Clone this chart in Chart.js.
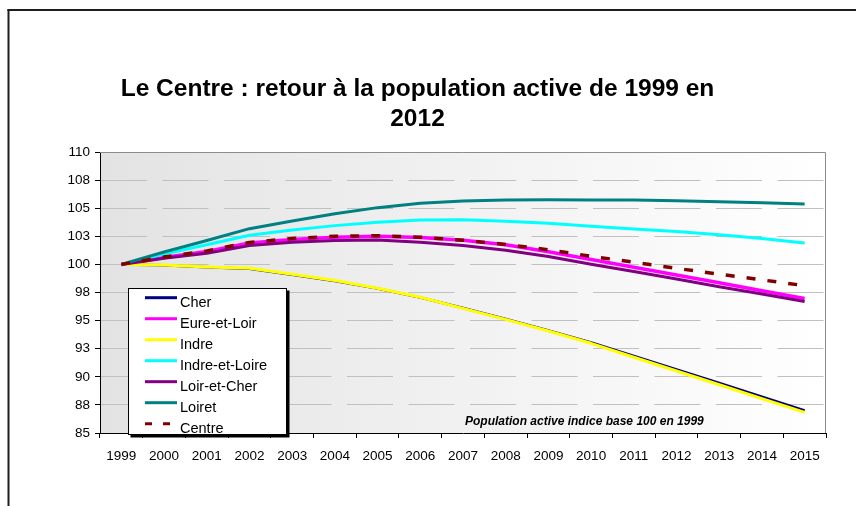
<!DOCTYPE html>
<html>
<head>
<meta charset="utf-8">
<script src="https://cdn.jsdelivr.net/npm/chart.js@4/dist/chart.umd.min.js"></script>
<style>
html,body{margin:0;padding:0;background:#fff;}
canvas{display:block;}
</style>
</head>
<body>
<canvas id="c" width="856" height="506"></canvas>
<script>
// ---- data ----
const years = ['1999','2000','2001','2002','2003','2004','2005','2006','2007','2008','2009','2010','2011','2012','2013','2014','2015'];
const cher        = [100, 99.92, 99.74, 99.62, 99.08, 98.52, 97.85, 97.05, 96.12, 95.14, 94.12, 93.05, 91.86, 90.66, 89.45, 88.23, 87.00];
const eureEtLoir  = [100, 100.62, 101.15, 101.90, 102.22, 102.42, 102.51, 102.40, 102.14, 101.74, 101.12, 100.44, 99.75, 99.06, 98.36, 97.66, 96.97];
const indre       = [100, 99.94, 99.76, 99.66, 99.13, 98.56, 97.88, 97.08, 96.09, 95.11, 94.07, 92.98, 91.74, 90.52, 89.29, 88.06, 86.84];
const indreEtLoire= [100, 100.92, 101.75, 102.60, 103.07, 103.45, 103.75, 103.96, 103.98, 103.84, 103.66, 103.40, 103.16, 102.92, 102.64, 102.30, 101.90];
const loirEtCher  = [100, 100.55, 101.00, 101.68, 101.98, 102.12, 102.16, 101.98, 101.68, 101.25, 100.70, 100.02, 99.36, 98.70, 98.02, 97.36, 96.70];
const loiret      = [100, 101.10, 102.13, 103.18, 103.86, 104.50, 105.05, 105.45, 105.65, 105.72, 105.75, 105.74, 105.72, 105.66, 105.57, 105.48, 105.37];
const centre      = [100, 100.65, 101.20, 101.95, 102.30, 102.50, 102.56, 102.42, 102.15, 101.78, 101.30, 100.72, 100.20, 99.65, 99.13, 98.62, 98.11];

const seriesNames = ['Cher','Eure-et-Loir','Indre','Indre-et-Loire','Loir-et-Cher','Loiret','Centre'];
const seriesData  = [cher, eureEtLoir, indre, indreEtLoire, loirEtCher, loiret, centre];
const yMin = 85, yMax = 110, yStep = 2.5;
const titleLines = ['Le Centre : retour à la population active de 1999 en', '2012'];
const noteText = 'Population active indice base 100 en 1999';

// ---- styles ----
const FONT = '"Liberation Sans", Arial, Helvetica, sans-serif';
const colors = ['#000080','#FF00FF','#FFFF00','#00FFFF','#800080','#008080','#800000'];
const widths = [2.5, 3.5, 3, 3, 3, 3, 3.5];
const dashes = [[],[],[],[],[],[],[9,12]];

const decor = {
  id: 'decor',
  beforeDraw(chart) {
    const {ctx, chartArea: a} = chart;
    ctx.save();
    const g = ctx.createLinearGradient(a.left, 0, a.right, 0);
    g.addColorStop(0, '#e3e3e3');
    g.addColorStop(1, '#ffffff');
    ctx.fillStyle = g;
    ctx.fillRect(a.left, a.top, a.right - a.left, a.bottom - a.top);
    // outer frame (top + left)
    ctx.fillStyle = '#1e1e1e';
    ctx.fillRect(7.5, 9, chart.width - 7.5, 2);
    ctx.fillRect(7.5, 9, 2, chart.height - 9);
    ctx.restore();
  },
  beforeDatasetsDraw(chart) {
    const {ctx, chartArea: a} = chart;
    ctx.save();
    ctx.strokeStyle = '#8c8c8c';
    ctx.lineWidth = 1;
    ctx.beginPath();
    ctx.moveTo(a.left, a.top + 0.5);
    ctx.lineTo(a.right - 0.5, a.top + 0.5);
    ctx.lineTo(a.right - 0.5, a.bottom);
    ctx.stroke();
    ctx.restore();
  },
  afterDraw(chart) {
    const {ctx} = chart;
    ctx.save();
    // title
    ctx.fillStyle = '#000';
    ctx.font = 'bold 24.5px ' + FONT;
    ctx.textAlign = 'center';
    ctx.textBaseline = 'alphabetic';
    ctx.fillText(titleLines[0], 417.5, 96);
    ctx.fillText(titleLines[1], 417.5, 126);
    // note
    ctx.font = 'italic bold 12px ' + FONT;
    ctx.textAlign = 'left';
    ctx.textBaseline = 'middle';
    ctx.fillText(noteText, 465, 422);
    // legend box
    const lx = 128.5, ly = 288.5, lw = 158, lh = 146;
    ctx.fillStyle = '#000';
    ctx.fillRect(lx + 2, ly + 2, lw + 1, lh + 1);
    ctx.fillStyle = '#fff';
    ctx.fillRect(lx, ly, lw, lh);
    ctx.strokeStyle = '#000';
    ctx.lineWidth = 1;
    ctx.strokeRect(lx, ly, lw, lh);
    chart.data.datasets.forEach((ds, i) => {
      const cy = 302.7 + i * 21;
      ctx.strokeStyle = ds.borderColor;
      ctx.lineWidth = 3;
      ctx.setLineDash(ds.borderDash && ds.borderDash.length ? [7, 11] : []);
      ctx.beginPath();
      ctx.moveTo(145, cy - 5);
      ctx.lineTo(177, cy - 5);
      ctx.stroke();
      ctx.setLineDash([]);
      ctx.fillStyle = '#000';
      ctx.font = '14.5px ' + FONT;
      ctx.textBaseline = 'middle';
      ctx.fillText(ds.label, 180, cy);
    });
    ctx.restore();
  }
};

new Chart(document.getElementById('c'), {
  type: 'line',
  data: {
    labels: years,
    datasets: seriesNames.map((n, i) => ({
      label: n,
      data: seriesData[i],
      borderColor: colors[i],
      backgroundColor: colors[i],
      borderWidth: widths[i],
      borderDash: dashes[i],
      borderCapStyle: 'butt',
      borderJoinStyle: 'round',
      pointRadius: 0,
      tension: 0,
      fill: false,
      order: seriesNames.length - 1 - i
    }))
  },
  options: {
    responsive: false,
    animation: false,
    devicePixelRatio: 1,
    layout: {padding: {left: 0, right: 30, top: 152, bottom: 33}},
    plugins: {legend: {display: false}, title: {display: false}, tooltip: {enabled: false}},
    scales: {
      x: {
        offset: true,
        grid: {offset: true, drawOnChartArea: false, drawTicks: true, tickLength: 5, tickColor: '#000', color: '#000'},
        border: {display: true, color: '#000', width: 1},
        ticks: {color: '#000', font: {family: FONT, size: 13.5}, padding: 10, maxRotation: 0, autoSkip: false},
        afterFit(s) { s.height = 40; }
      },
      y: {
        min: yMin, max: yMax,
        ticks: {stepSize: yStep, color: '#000', font: {family: FONT, size: 13.5}, padding: 5, callback: v => Math.round(v)},
        grid: {color: '#c0c0c0', lineWidth: 1, tickLength: 5, tickColor: '#000'},
        border: {display: true, color: '#000', width: 1, dash: [46, 15.5]},
        afterFit(s) { s.width = 100; }
      }
    }
  },
  plugins: [decor]
});
</script>
</body>
</html>
